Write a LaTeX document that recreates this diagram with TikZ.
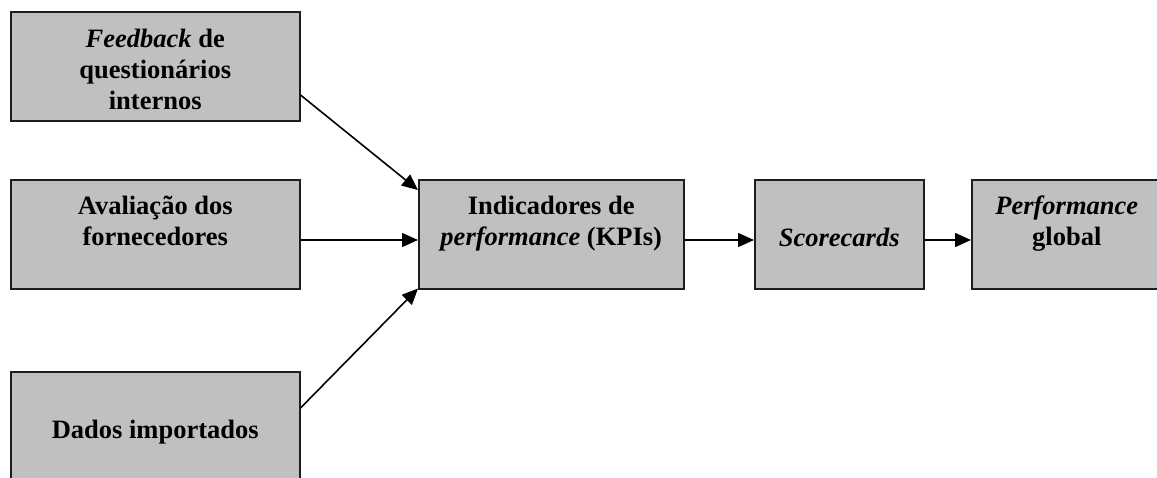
\documentclass[tikz,border=0pt]{standalone}
\usepackage{fontspec}
\setmainfont{Liberation Serif}
\usetikzlibrary{arrows.meta,calc}

\definecolor{boxgray}{HTML}{C0C0C0}
\definecolor{boxedge}{HTML}{1D1D1D}

% text block set at the top of a box: width, height, first-line strut, text
\newcommand{\blocktext}[4]{%
  \parbox[t][#2][t]{#1}{\centering\fontsize{26.5}{31}\selectfont\bfseries
  \rule{0pt}{#3}#4}}

\begin{document}
\begin{tikzpicture}[x=1pt,y=-1pt,
  blk/.style={draw=boxedge, fill=boxgray, line width=1.5pt, inner sep=0pt,
              anchor=north west},
  link/.style={line width=1.6pt, draw=black,
               -{Triangle[length=16pt,width=14pt]}}]

  \clip (0,0) rectangle (1157,477);
  \fill[white] (0,0) rectangle (1157,477);

  % input sources
  \node[blk] (b1) at (10,11)
    {\blocktext{289pt}{109pt}{36pt}{\textit{Feedback} de\\questionários\\internos}};
  \node[blk] (b2) at (10,179)
    {\blocktext{289pt}{109pt}{35pt}{Avaliação dos\\fornecedores}};
  \node[blk] (b3) at (10,371)
    {\blocktext{289pt}{109pt}{67pt}{Dados importados}};

  % processing chain
  \node[blk] (b4) at (418,179)
    {\blocktext{265pt}{109pt}{35pt}{Indicadores de\\\textit{performance} (KPIs)}};
  \node[blk] (b5) at (754,179)
    {\blocktext{169pt}{109pt}{67pt}{\textit{Scorecards}}};
  \node[blk] (b6) at (971,179)
    {\blocktext{190pt}{109pt}{35pt}{\textit{Performance}\\global}};

  % connectors
  \draw[link] ($(b1.north east)+(0,84)$) -- ($(b4.north west)+(0,11)$);
  \draw[link] ($(b2.north east)+(0,61)$) -- ($(b4.north west)+(0,61)$);
  \draw[link] ($(b3.north east)+(0,37)$) -- ($(b4.south west)+(0,-1)$);
  \draw[link] ($(b4.north east)+(0,61)$) -- ($(b5.north west)+(0,61)$);
  \draw[link] ($(b5.north east)+(0,61)$) -- ($(b6.north west)+(0,61)$);
\end{tikzpicture}
\end{document}
